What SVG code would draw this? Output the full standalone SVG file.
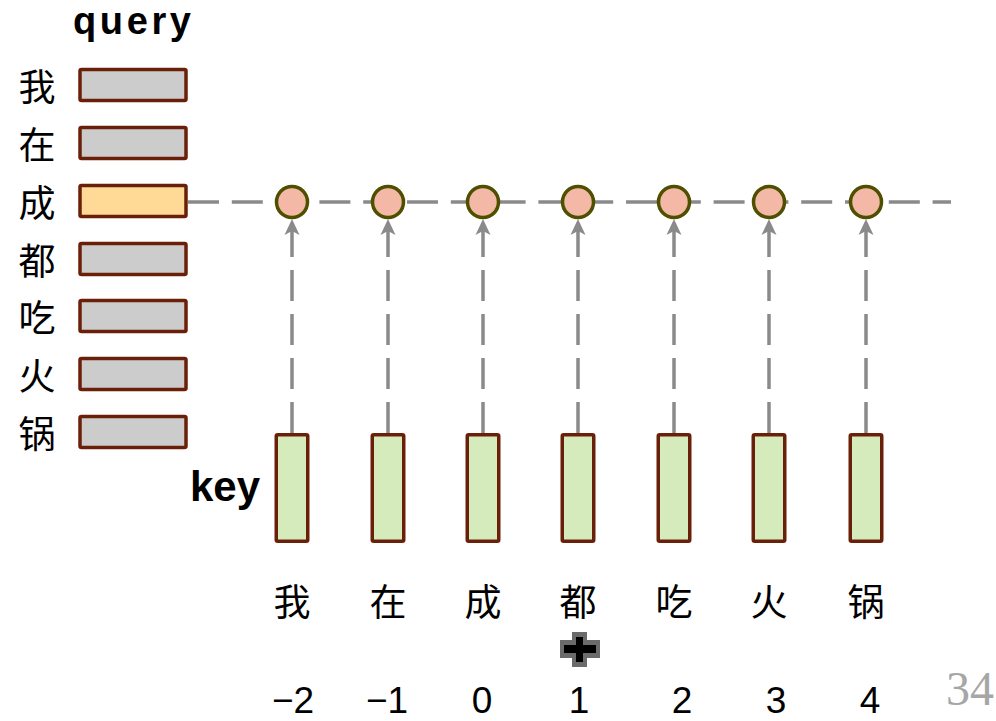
<svg xmlns="http://www.w3.org/2000/svg" width="996" height="721" viewBox="0 0 996 721">
  <defs>
    <style>
      .cjk { font-family: "Noto Sans CJK SC", "Noto Sans CJK JP", sans-serif; font-size: 37px; fill: #000; text-anchor: middle; dominant-baseline: central; }
      .head { font-family: "Liberation Sans", Arial, sans-serif; font-weight: bold; fill: #000; }
      .num { font-family: "Liberation Sans", Arial, sans-serif; font-size: 37px; fill: #000; text-anchor: middle; }
      .qbox { fill: #cccccc; stroke: #6a2008; stroke-width: 3.5; }
      .qbox.sel { fill: #ffd996; }
      .kbox { fill: #d6ebbc; stroke: #6a2008; stroke-width: 3.5; }
      .dot { fill: #f3b9a6; stroke: #4f4f00; stroke-width: 3.5; }
      .dash { fill: none; stroke: #8a8a8a; stroke-width: 3.5; }
      .head-tip { fill: #8a8a8a; }
    </style>
    <path id="tip" class="head-tip" d="M0,-1 L7.5,15 L0,11 L-7.5,15 Z"/>
  </defs>
  <rect width="996" height="721" fill="#ffffff"/>

  <!-- column headings -->
  <text id="label-query" class="head" x="73" y="34" font-size="38" textLength="118" lengthAdjust="spacing">query</text>
  <text id="label-key" class="head" x="190" y="501" font-size="42" textLength="70" lengthAdjust="spacing">key</text>

  <!-- connectors: query row line and key-to-score arrows -->
  <g id="connectors">
    <line class="dash" x1="188" y1="202" x2="951" y2="202" stroke-dasharray="31 12.8"/>
    <g stroke-dasharray="31 13">
      <line class="dash" x1="292" y1="433" x2="292" y2="231"/>
      <line class="dash" x1="388" y1="433" x2="388" y2="231"/>
      <line class="dash" x1="483" y1="433" x2="483" y2="231"/>
      <line class="dash" x1="578" y1="433" x2="578" y2="231"/>
      <line class="dash" x1="674" y1="433" x2="674" y2="231"/>
      <line class="dash" x1="769" y1="433" x2="769" y2="231"/>
      <line class="dash" x1="866" y1="433" x2="866" y2="231"/>
    </g>
    <use href="#tip" x="292" y="220"/>
    <use href="#tip" x="388" y="220"/>
    <use href="#tip" x="483" y="220"/>
    <use href="#tip" x="578" y="220"/>
    <use href="#tip" x="674" y="220"/>
    <use href="#tip" x="769" y="220"/>
    <use href="#tip" x="866" y="220"/>
  </g>

  <!-- query rows -->
  <g id="q-wo"><text class="cjk" x="37" y="84.5">我</text><rect class="qbox" x="80" y="69.5" width="106" height="31" rx="1.5"/></g>
  <g id="q-zai"><text class="cjk" x="37" y="142.5">在</text><rect class="qbox" x="80" y="127.5" width="106" height="31" rx="1.5"/></g>
  <g id="q-cheng"><text class="cjk" x="37" y="200.5">成</text><rect class="qbox sel" x="80" y="185.5" width="106" height="31" rx="1.5"/></g>
  <g id="q-du"><text class="cjk" x="37" y="258.5">都</text><rect class="qbox" x="80" y="243.5" width="106" height="31" rx="1.5"/></g>
  <g id="q-chi"><text class="cjk" x="37" y="315.5">吃</text><rect class="qbox" x="80" y="300.5" width="106" height="31" rx="1.5"/></g>
  <g id="q-huo"><text class="cjk" x="37" y="373.5">火</text><rect class="qbox" x="80" y="358.5" width="106" height="31" rx="1.5"/></g>
  <g id="q-guo"><text class="cjk" x="37" y="431.5">锅</text><rect class="qbox" x="80" y="416.5" width="106" height="31" rx="1.5"/></g>

  <!-- score dots -->
  <g id="s-0"><circle class="dot" cx="292" cy="202" r="15.5"/></g>
  <g id="s-1"><circle class="dot" cx="388" cy="202" r="15.5"/></g>
  <g id="s-2"><circle class="dot" cx="483" cy="202" r="15.5"/></g>
  <g id="s-3"><circle class="dot" cx="578" cy="202" r="15.5"/></g>
  <g id="s-4"><circle class="dot" cx="674" cy="202" r="15.5"/></g>
  <g id="s-5"><circle class="dot" cx="769" cy="202" r="15.5"/></g>
  <g id="s-6"><circle class="dot" cx="866" cy="202" r="15.5"/></g>

  <!-- key columns -->
  <g id="k-wo"><rect class="kbox" x="276.25" y="434.75" width="31.5" height="106.5" rx="1.5"/><text class="cjk" x="292" y="600">我</text><text class="num" x="293" y="713">−2</text></g>
  <g id="k-zai"><rect class="kbox" x="372.25" y="434.75" width="31.5" height="106.5" rx="1.5"/><text class="cjk" x="388" y="600">在</text><text class="num" x="387" y="713">−1</text></g>
  <g id="k-cheng"><rect class="kbox" x="467.25" y="434.75" width="31.5" height="106.5" rx="1.5"/><text class="cjk" x="483" y="600">成</text><text class="num" x="482" y="713">0</text></g>
  <g id="k-du"><rect class="kbox" x="562.25" y="434.75" width="31.5" height="106.5" rx="1.5"/><text class="cjk" x="578" y="600">都</text><text class="num" x="579" y="713">1</text></g>
  <g id="k-chi"><rect class="kbox" x="658.25" y="434.75" width="31.5" height="106.5" rx="1.5"/><text class="cjk" x="674" y="600">吃</text><text class="num" x="682" y="713">2</text></g>
  <g id="k-huo"><rect class="kbox" x="753.25" y="434.75" width="31.5" height="106.5" rx="1.5"/><text class="cjk" x="769" y="600">火</text><text class="num" x="776" y="713">3</text></g>
  <g id="k-guo"><rect class="kbox" x="850.25" y="434.75" width="31.5" height="106.5" rx="1.5"/><text class="cjk" x="866" y="600">锅</text><text class="num" x="870" y="713">4</text></g>

  <!-- plus marker under 都 -->
  <g id="plus">
    <path d="M572,632 H587 V640 H600 V658 H587 V667 H572 V658 H560 V640 H572 Z" fill="#6b6b6b"/>
    <path d="M576,637 H583 V645 H596 V653 H583 V662 H576 V653 H564 V645 H576 Z" fill="#000"/>
  </g>

  <!-- page number -->
  <text id="page-no" x="946" y="705" font-family="Liberation Serif, serif" font-size="48" fill="#a6a6a6">34</text>
</svg>
